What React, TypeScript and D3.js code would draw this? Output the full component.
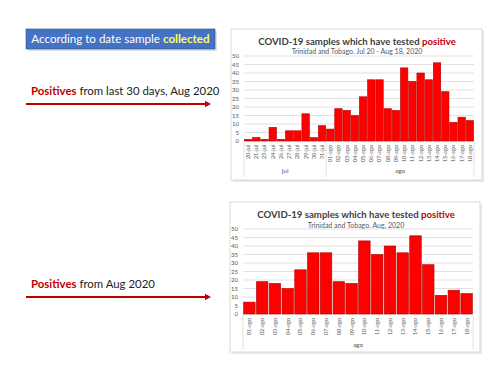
import React from "react";
import * as d3 from "d3";

const julDays = ["20-jul", "21-jul", "23-jul", "24-jul", "26-jul", "27-jul", "28-jul", "29-jul", "30-jul", "31-jul"];
const julValues = [1, 2, 1, 8, 1, 6, 6, 16, 2, 9];
const agoDays = ["01-ago", "02-ago", "03-ago", "04-ago", "05-ago", "06-ago", "07-ago", "08-ago", "09-ago", "10-ago", "11-ago", "12-ago", "13-ago", "14-ago", "15-ago", "16-ago", "17-ago", "18-ago"];
const agoValues = [7, 19, 18, 15, 26, 36, 36, 19, 18, 43, 35, 40, 36, 46, 29, 11, 14, 12];
const yTicks = [0, 5, 10, 15, 20, 25, 30, 35, 40, 45, 50];

const FONT = "Lato, 'Open Sans', sans-serif";

type Group = { name: string; cats: string[]; values: number[] };

function Chart(props: {
  x0: number; y0: number; x1: number; y1: number;
  titleY: number; subY: number; subtitle: string;
  plotL: number; plotR: number; plotT: number; plotB: number;
  groups: Group[]; groupY: number; sepBottom: number; tickFont: number;
}) {
  const { x0, y0, x1, y1, titleY, subY, subtitle, plotL, plotR, plotT, plotB, groups, groupY, sepBottom, tickFont } = props;
  const cats = groups.flatMap((g) => g.cats);
  const vals = groups.flatMap((g) => g.values);
  const x = d3.scaleBand<string>().domain(cats).range([plotL, plotR]).paddingInner(0.1).paddingOuter(0.05);
  const y = d3.scaleLinear().domain([0, 50]).range([plotB, plotT]);
  const cx = (plotL + plotR) / 2 - 2;
  let offset = 0;
  const seps: number[] = [plotL];
  const groupLabels: { name: string; cx: number }[] = [];
  groups.forEach((g) => {
    const start = plotL + (offset / cats.length) * (plotR - plotL);
    offset += g.cats.length;
    const end = plotL + (offset / cats.length) * (plotR - plotL);
    seps.push(end);
    groupLabels.push({ name: g.name, cx: (start + end) / 2 });
  });
  const step = (plotR - plotL) / cats.length;
  return (
    <g>
      <rect x={x0 + 2} y={y0 + 2} width={x1 - x0} height={y1 - y0} fill="#e8e8e8" />
      <rect x={x0} y={y0} width={x1 - x0} height={y1 - y0} fill="#fff" stroke="#d9d9d9" strokeWidth={1} />
      <text x={cx} y={titleY} textAnchor="middle" fontFamily={FONT} fontWeight="bold" fontSize={9.6} fill="#404040">
        COVID-19 samples which have tested <tspan fill="#c00000">positive</tspan>
      </text>
      <text x={cx} y={subY} textAnchor="middle" fontFamily={FONT} fontSize={7} fill="#595959">{subtitle}</text>
      {yTicks.map((t) => (
        <g key={t}>
          <line x1={plotL} x2={plotR} y1={y(t)} y2={y(t)} stroke="#d9d9d9" strokeWidth={0.8} />
          <text x={plotL - 5} y={y(t)} dy="0.35em" textAnchor="end" fontFamily={FONT} fontSize={6} fill="#595959">{t}</text>
        </g>
      ))}
      {cats.map((c, i) => (
        <rect key={c} x={x(c)} y={y(vals[i])} width={x.bandwidth()} height={plotB - y(vals[i])} fill="#ff0000" stroke="#b00000" strokeWidth={0.6} />
      ))}
      {cats.map((c, i) => {
        const tx = plotL + step * (i + 0.5);
        return (
          <text key={c} transform={`translate(${tx},${plotB + 4}) rotate(-90)`} textAnchor="end" dy="0.35em" fontFamily={FONT} fontSize={tickFont} fill="#595959">{c}</text>
        );
      })}
      {seps.map((s, i) => (
        <line key={i} x1={s} x2={s} y1={plotB} y2={sepBottom} stroke="#d9d9d9" strokeWidth={0.8} />
      ))}
      {groupLabels.map((g) => (
        <text key={g.name} x={g.cx} y={groupY} textAnchor="middle" dy="0.35em" fontFamily={FONT} fontSize={6.5} fill="#595959">{g.name}</text>
      ))}
    </g>
  );
}

function Arrow(props: { x1: number; x2: number; y: number }) {
  const { x1, x2, y } = props;
  return (
    <g>
      <line x1={x1} x2={x2 - 5} y1={y} y2={y} stroke="#c00000" strokeWidth={2} />
      <path d={`M${x2 - 6},${y - 3.2} L${x2},${y} L${x2 - 6},${y + 3.2} Z`} fill="#c00000" />
    </g>
  );
}

export default function App() {
  return (
    <svg width={500} height={375} style={{ position: "absolute", left: 0, top: 0, background: "#fff" }}>
      <rect x={0} y={0} width={500} height={375} fill="#fff" />
      <rect x={28} y={31} width={189} height={20} fill="#e0e0e0" />
      <rect x={26} y={29} width={189} height={20} fill="#4472c4" stroke="#2f528f" strokeWidth={0.6} />
      <text x={120.5} y={39} dy="0.35em" textAnchor="middle" fontFamily={FONT} fontSize={11.6} fill="#ffffff">
        According to date sample <tspan fill="#ffff66" fontWeight="bold">collected</tspan>
      </text>
      <text x={31} y={95} fontFamily={FONT} fontSize={11.4} fill="#222">
        <tspan fill="#c00000" fontWeight="bold">Positives</tspan> from last 30 days, Aug 2020
      </text>
      <Arrow x1={26} x2={211} y={104} />
      <text x={31} y={288} fontFamily={FONT} fontSize={11.4} fill="#222">
        <tspan fill="#c00000" fontWeight="bold">Positives</tspan> from Aug 2020
      </text>
      <Arrow x1={26} x2={211} y={297} />
      <Chart
        x0={231} y0={29} x1={482} y1={180}
        titleY={45} subY={54} subtitle="Trinidad and Tobago. Jul 20 - Aug 18, 2020"
        plotL={244} plotR={474} plotT={56} plotB={141}
        groups={[{ name: "jul", cats: julDays, values: julValues }, { name: "ago", cats: agoDays, values: agoValues }]}
        groupY={171} sepBottom={177} tickFont={5.5}
      />
      <Chart
        x0={230} y0={202} x1={480} y1={352}
        titleY={218} subY={228} subtitle="Trinidad and Tobago. Aug, 2020"
        plotL={243} plotR={473} plotT={229} plotB={314}
        groups={[{ name: "ago", cats: agoDays, values: agoValues }]}
        groupY={345} sepBottom={350} tickFont={5.5}
      />
    </svg>
  );
}
